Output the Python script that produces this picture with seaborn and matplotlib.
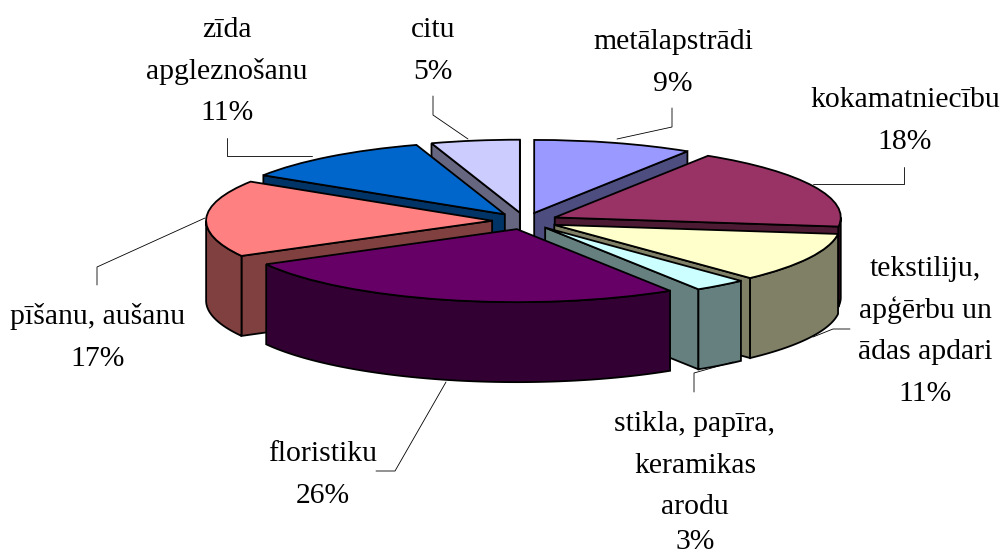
import numpy as np
import matplotlib
matplotlib.use("Agg")
import matplotlib.pyplot as plt
import seaborn as sns

# slices, clockwise from 12 o'clock
categories = [
    ["metālapstrādi"],
    ["kokamatniecību"],
    ["tekstiliju,", "apģērbu un", "ādas apdari"],
    ["stikla, papīra,", "keramikas", "arodu"],
    ["floristiku"],
    ["pīšanu, aušanu"],
    ["zīda", "apgleznošanu"],
    ["citu"],
]
shares = [9, 18, 11, 3, 26, 17, 11, 5]
colors = ["#9999FF", "#993366", "#FFFFCC", "#CCFFFF", "#660066", "#FF8080", "#0066CC", "#CCCCFF"]

# label placement in picture pixels: centre x, first baseline y
label_pos = [(673, 49), (905, 107), (925, 276), (695, 431), (323, 461), (98, 324), (227, 37), (433, 37)]
leaders = [
    [(672, 108), (672, 127), (617, 139)],
    [(904, 167), (904, 184), (813, 184)],
    [(850, 329), (833, 329), (813, 337)],
    [(694, 392), (694, 373), (733, 362)],
    [(376, 471), (395, 471), (446, 382)],
    [(97, 285), (97, 267), (205, 218)],
    [(227, 138), (227, 156), (312, 156)],
    [(433, 96), (433, 115), (468, 139)],
]

W, H = 1004, 557
CX, CY = 525, 221      # pie centre
RX, RY = 286, 73       # ellipse radii of the tilted top
DEPTH = 80             # wall height
EXPLODE = 0.115
PITCH = 41.7           # label line pitch
EDGE = 1.3
LOWEST_BASELINE = H - 8  # keeps the last label line inside the picture

sns.set_theme(style="white")
plt.rcParams["font.family"] = ["Liberation Serif", "DejaVu Serif"]

palette = sns.color_palette(colors)
dark = [tuple(np.array(c) * 0.5) for c in palette]

fig = plt.figure(figsize=(W / 100, H / 100), dpi=100, facecolor="white")
ax = fig.add_axes([0, 0, 1, 1])

wedges, _ = ax.pie(
    shares,
    colors=palette,
    explode=[EXPLODE] * len(shares),
    startangle=90,
    counterclock=False,
    wedgeprops={"edgecolor": "black", "linewidth": EDGE},
)
# squash the circle into the tilted ellipse
ax.set_aspect("auto")
ax.set_xlim(-CX / RX, (W - CX) / RX)
ax.set_ylim((CY - H) / RY, CY / RY)
drop = DEPTH / RY


def draw_walls(w, color, z):
    x0, y0 = w.center
    t1, t2 = w.theta1, w.theta2
    style = dict(facecolor=color, edgecolor="black", linewidth=EDGE, zorder=z)
    # cut faces, only those turned towards the viewer
    for t, visible in ((t1, np.cos(np.radians(t1)) > 0), (t2, np.cos(np.radians(t2)) < 0)):
        if visible:
            px = x0 + w.r * np.cos(np.radians(t))
            py = y0 + w.r * np.sin(np.radians(t))
            ax.fill([x0, px, px, x0], [y0, py, py - drop, y0 - drop], **style)
    # outer rim
    ang = np.radians(np.linspace(t1, t2, 400))
    ang = ang[np.sin(ang) < 0]
    if len(ang):
        xs = x0 + w.r * np.cos(ang)
        ys = y0 + w.r * np.sin(ang)
        ax.fill(np.r_[xs, xs[::-1]], np.r_[ys, ys[::-1] - drop], **style)


# paint from the back slice to the front one
order = sorted(range(len(wedges)), key=lambda i: -wedges[i].center[1])
for n, i in enumerate(order):
    draw_walls(wedges[i], dark[i], 2 + n)
    wedges[i].set_zorder(2.5 + n)

# overlay in picture pixels for labels and leader lines
over = fig.add_axes([0, 0, 1, 1], facecolor="none")
over.set_xlim(0, W)
over.set_ylim(H, 0)
over.axis("off")

for lines, share, (x, y), path in zip(categories, shares, label_pos, leaders):
    for k, line in enumerate(lines + [f"{share}%"]):
        over.text(x, min(y + k * PITCH, LOWEST_BASELINE), line, ha="center", va="baseline",
                  fontsize=21.3, color="black")
    over.plot(*zip(*path), color="black", linewidth=0.6)

fig.savefig("out.png", dpi=100)
